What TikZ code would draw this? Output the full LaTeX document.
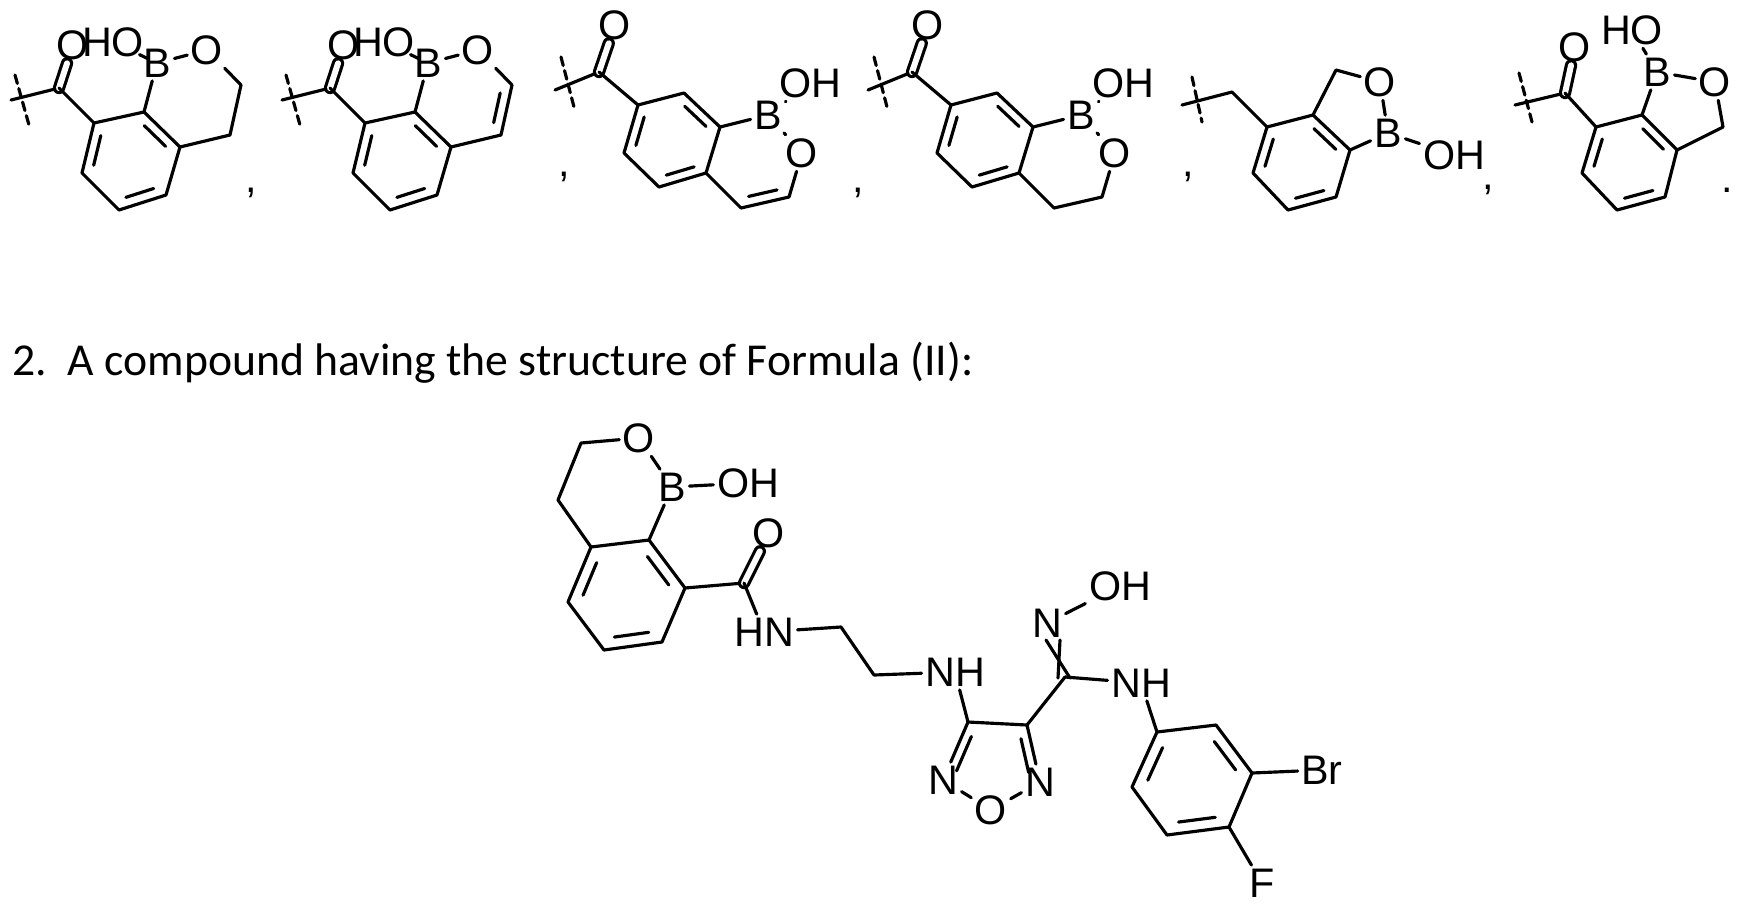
\documentclass[tikz,border=0pt]{standalone}
\usepackage{fontspec}
\setmainfont{Liberation Sans}
\newfontfamily\textfnt{Carlito}
\usetikzlibrary{calc}
\newcommand{\inb}[3]{\path ($(#1)!0.22!(#3)$) coordinate (ia) ($(#2)!0.22!(#3)$) coordinate (ib); \draw ($(ia)!0.12!(ib)$) -- ($(ib)!0.12!(ia)$);}
\tikzset{lbl/.style={font=\fontsize{23.5}{25}\selectfont, inner sep=1.2pt},
 dbl/.style={double,double distance=3.4pt},
 cutline/.style={dash pattern=on 5pt off 3pt}}
\newcommand{\ringA}[1]{%
 \coordinate (#1c1) at (15,75); \coordinate (#1c2) at (29,125);
 \draw[cutline] (#1c1)--(#1c2);
 \coordinate (#1s) at (11,100); \coordinate (#1C) at (59,88);
 \node[lbl] (#1O) at (73,45) {O}; \node[lbl] (#1HO) at (113,42) {HO};
 \node[lbl] (#1B) at (157,63) {B}; \node[lbl] (#1Or) at (207,50) {O};
 \coordinate (#1a1) at (94,123); \coordinate (#1a2) at (144,112); \coordinate (#1a3) at (180,147);
 \coordinate (#1a4) at (166,195); \coordinate (#1a5) at (119,210); \coordinate (#1a6) at (82,173);
 \coordinate (#1x1) at (241,85); \coordinate (#1x2) at (230,135);
 \coordinate (#1m) at ($(#1a1)!0.5!(#1a4)$); \coordinate (#1h) at (192,100);
 \draw (#1s)--(#1C); \draw[dbl] (#1C)--(#1O); \draw (#1C)--(#1a1);
 \draw (#1a1)--(#1a2)--(#1a3)--(#1a4)--(#1a5)--(#1a6)--cycle;
 \inb{#1a2}{#1a3}{#1m} \inb{#1a6}{#1a1}{#1m} \inb{#1a4}{#1a5}{#1m}
 \draw (#1a2)--(#1B); \draw (#1B)--(#1HO); \draw (#1B)--(#1Or);
 \draw (#1Or)--(#1x1)--(#1x2)--(#1a3);}
\newcommand{\ringB}[1]{%
 \coordinate (#1c1) at (561,57); \coordinate (#1c2) at (574,107);
 \draw[cutline] (#1c1)--(#1c2);
 \coordinate (#1s) at (555,90); \coordinate (#1C) at (599,72);
 \node[lbl] (#1O) at (615,25) {O};
 \coordinate (#1b1) at (638,105); \coordinate (#1b2) at (684,93); \coordinate (#1b3) at (720,127);
 \coordinate (#1b4) at (706,173); \coordinate (#1b5) at (659,187); \coordinate (#1b6) at (624,153);
 \node[lbl] (#1B) at (768,115) {B}; \node[lbl] (#1OH) at (810,83) {OH}; \node[lbl] (#1Or) at (802,153) {O};
 \coordinate (#1x1) at (789,197); \coordinate (#1x2) at (741,208);
 \coordinate (#1m) at ($(#1b1)!0.5!(#1b4)$); \coordinate (#1h) at (755,160);
 \draw (#1s)--(#1C); \draw[dbl] (#1C)--(#1O); \draw (#1C)--(#1b1);
 \draw (#1b1)--(#1b2)--(#1b3)--(#1b4)--(#1b5)--(#1b6)--cycle;
 \inb{#1b2}{#1b3}{#1m} \inb{#1b6}{#1b1}{#1m} \inb{#1b4}{#1b5}{#1m}
 \draw (#1b3)--(#1B); \draw (#1B)--(#1OH); \draw (#1B)--(#1Or);
 \draw (#1Or)--(#1x1)--(#1x2)--(#1b4);}
\begin{document}
\begin{tikzpicture}[x=0.02cm,y=-0.02cm,line width=1.8pt,line cap=round,line join=round]
\useasboundingbox[fill=white] (0,0) rectangle (1743,904);
\ringA{p}
\begin{scope}[shift={(271,0)}]
\ringA{q}
\inb{qx1}{qx2}{qh}
\end{scope}
\ringB{r}
\inb{rx1}{rx2}{rh}
\begin{scope}[shift={(313,0)}]
\ringB{t}
\end{scope}
\node[lbl] (cm1) at (251,193) {,};
\node[lbl] (cm2) at (564,177) {,};
\node[lbl] (cm3) at (858,193) {,};
\node[lbl] (cm4) at (1188,177) {,};
\node[lbl] (cm5) at (1488,190) {,};
\node[lbl] (pd) at (1727,190) {.};
% structure 5
\coordinate (uc1) at (1192,77); \coordinate (uc2) at (1202,122);
\draw[cutline] (uc1)--(uc2);
\coordinate (us) at (1182,105); \coordinate (uC) at (1232,92);
\coordinate (u1) at (1267,127); \coordinate (u2) at (1313,115); \coordinate (u3) at (1350,150);
\coordinate (u4) at (1336,197); \coordinate (u5) at (1288,210); \coordinate (u6) at (1253,173);
\coordinate (um) at ($(u1)!0.5!(u4)$);
\coordinate (uy) at (1336,70);
\node[lbl] (uO) at (1380,82) {O}; \node[lbl] (uB) at (1388,133) {B}; \node[lbl] (uOH) at (1454,155) {OH};
\draw (us)--(uC)--(u1);
\draw (u1)--(u2)--(u3)--(u4)--(u5)--(u6)--cycle;
\inb{u2}{u3}{um} \inb{u6}{u1}{um} \inb{u4}{u5}{um}
\draw (u2)--(uy)--(uO); \draw (uO)--(uB); \draw (uB)--(u3); \draw (uB)--(uOH);
% structure 6
\coordinate (vc1) at (1519,73); \coordinate (vc2) at (1532,122);
\draw[cutline] (vc1)--(vc2);
\coordinate (vs) at (1515,105); \coordinate (vC) at (1565,93);
\node[lbl] (vO) at (1575,47) {O};
\coordinate (v1) at (1596,127); \coordinate (v2) at (1642,115); \coordinate (v3) at (1677,150);
\coordinate (v4) at (1665,197); \coordinate (v5) at (1617,210); \coordinate (v6) at (1582,173);
\coordinate (vm) at ($(v1)!0.5!(v4)$);
\node[lbl] (vB) at (1657,72) {B}; \node[lbl] (vHO) at (1632,30) {HO}; \node[lbl] (vOr) at (1715,82) {O};
\coordinate (vy) at (1723,127);
\draw (vs)--(vC); \draw[dbl] (vC)--(vO); \draw (vC)--(v1);
\draw (v1)--(v2)--(v3)--(v4)--(v5)--(v6)--cycle;
\inb{v2}{v3}{vm} \inb{v6}{v1}{vm} \inb{v4}{v5}{vm}
\draw (v2)--(vB); \draw (vB)--(vHO); \draw (vB)--(vOr); \draw (vOr)--(vy)--(v3);
% claim text
\node[anchor=west, inner sep=0pt, font=\textfnt\fontsize{26}{30}\selectfont] (claim) at (11,363) {2.\ \ A compound having the structure of Formula (II):};
% Formula II
\node[lbl] (wO) at (639,438) {O};
\coordinate (wy1) at (581,443); \coordinate (wy2) at (558,500);
\coordinate (e1) at (591,547); \coordinate (e2) at (649,540); \coordinate (e3) at (685,588);
\coordinate (e4) at (662,642); \coordinate (e5) at (604,650); \coordinate (e6) at (568,602);
\coordinate (em) at ($(e1)!0.5!(e4)$);
\node[lbl] (wB) at (672,487) {B}; \node[lbl] (wOH) at (748,483) {OH};
\draw (wO)--(wy1)--(wy2)--(e1);
\draw (e1)--(e2)--(e3)--(e4)--(e5)--(e6)--cycle;
\inb{e2}{e3}{em} \inb{e6}{e1}{em} \inb{e4}{e5}{em}
\draw (wO)--(wB); \draw (wB)--(e2); \draw (wB)--(wOH);
\coordinate (wC) at (744,583); \node[lbl] (wO2) at (769,533) {O};
\node[lbl] (wHN) at (764,632) {HN};
\coordinate (k1) at (841,627); \coordinate (k2) at (874,675);
\node[lbl] (wNH) at (955,672) {NH};
\draw (e3)--(wC); \draw[dbl] (wC)--(wO2); \draw (wC)--(wHN);
\draw (wHN)--(k1)--(k2)--(wNH);
\coordinate (f1) at (968,722); \coordinate (f2) at (1027,725);
\node[lbl] (fNr) at (1040,782) {N}; \node[lbl] (fO) at (991,810) {O}; \node[lbl] (fNl) at (943,780) {N};
\coordinate (fm) at (994,763);
\draw (wNH)--(f1); \draw (f1)--(f2); \draw (f2)--(fNr); \draw (fNr)--(fO); \draw (fO)--(fNl); \draw (fNl)--(f1);
\inb{f1}{fNl}{fm} \inb{f2}{fNr}{fm}
\coordinate (hC) at (1065,677);
\node[lbl] (hN) at (1047,623) {N}; \node[lbl] (hOH) at (1120,586) {OH};
\draw (f2)--(hC);
\coordinate (xa1) at (1058,678); \coordinate (xa2) at (1060,640);
\coordinate (xb1) at (1070,678); \coordinate (xb2) at (1046,640);
\draw (xa1)--(xa2); \draw (xb1)--(xb2);
\draw (hN)--(hOH);
\node[lbl] (hNH) at (1141,683) {NH};
\draw (hC)--(hNH);
\coordinate (g1) at (1157,732); \coordinate (g2) at (1216,725); \coordinate (g3) at (1252,773);
\coordinate (g4) at (1229,827); \coordinate (g5) at (1167,835); \coordinate (g6) at (1132,787);
\coordinate (gm) at ($(g1)!0.5!(g4)$);
\draw (hNH)--(g1);
\draw (g1)--(g2)--(g3)--(g4)--(g5)--(g6)--cycle;
\inb{g2}{g3}{gm} \inb{g4}{g5}{gm} \inb{g6}{g1}{gm}
\node[lbl] (gBr) at (1322,770) {Br}; \node[lbl] (gF) at (1262,883) {F};
\draw (g3)--(gBr); \draw (g4)--(gF);
\end{tikzpicture}
\end{document}
